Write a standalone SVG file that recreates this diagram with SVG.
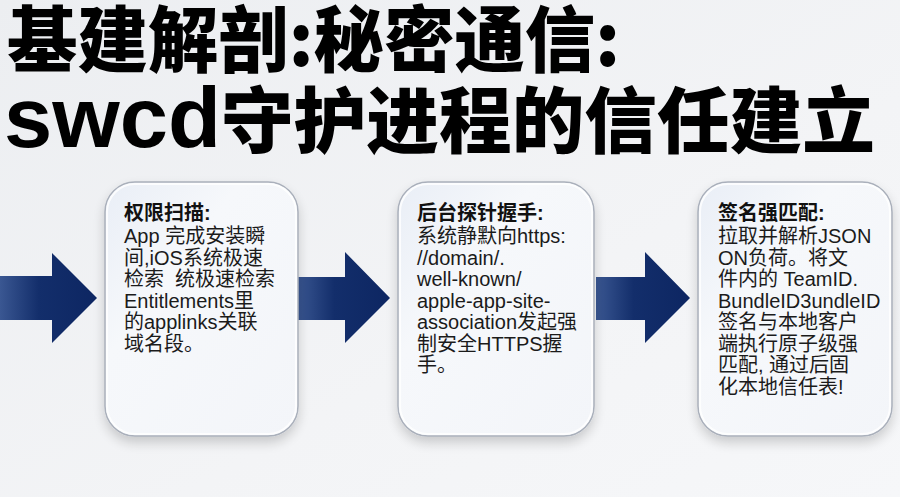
<svg xmlns="http://www.w3.org/2000/svg" width="900" height="497" viewBox="0 0 900 497">
<defs>
<linearGradient id="bg" x1="0" y1="0" x2="1" y2="1">
<stop offset="0" stop-color="#eceef1"/>
<stop offset="0.6" stop-color="#f3f4f6"/>
<stop offset="1" stop-color="#f6f7f9"/>
</linearGradient>
<linearGradient id="card" x1="0" y1="0" x2="1" y2="1">
<stop offset="0" stop-color="#e9eef6"/>
<stop offset="0.35" stop-color="#f6f8fb"/>
<stop offset="1" stop-color="#f3f5f9"/>
</linearGradient>
<linearGradient id="arrow" x1="0" y1="0" x2="1" y2="0">
<stop offset="0" stop-color="#3a5792"/>
<stop offset="0.4" stop-color="#132e6b"/>
<stop offset="1" stop-color="#0d2662"/>
</linearGradient>
<filter id="sh" x="-20%" y="-20%" width="140%" height="150%">
<feGaussianBlur in="SourceAlpha" stdDeviation="6"/>
<feOffset dy="6" result="b"/>
<feComponentTransfer><feFuncA type="linear" slope="0.18"/></feComponentTransfer>
<feMerge><feMergeNode/><feMergeNode in="SourceGraphic"/></feMerge>
</filter>
</defs>
<style>
.card{fill:url(#card);stroke:#aab0bb;stroke-width:1.5}
.inner{fill:none;stroke:#ffffff;stroke-width:2;opacity:0.8}
.arr{fill:url(#arrow)}
.h{font-family:"Liberation Sans","Noto Sans CJK SC",sans-serif;font-weight:bold;font-size:20px;fill:#111}
.t{font-family:"Liberation Sans","Noto Sans CJK SC",sans-serif;font-size:20px;fill:#1b1b1b}
.title{font-family:"Noto Sans CJK SC",sans-serif;font-weight:900;font-size:72px;fill:#000}
.lat{font-family:"Liberation Sans",sans-serif;font-weight:bold;font-size:86px}
</style>
<rect width="900" height="497" fill="url(#bg)"/>
<g id="title">
<text class="title" x="7" y="66" textLength="613" lengthAdjust="spacingAndGlyphs">基建解剖:秘密通信:</text>
<text class="title" x="4" y="147" textLength="871" lengthAdjust="spacingAndGlyphs"><tspan class="lat">swcd</tspan>守护进程的信任建立</text>
</g>
<g id="connectors">
<polygon class="arr" points="0,276 52,276 52,253 97,298 52,343 52,320 0,320"/>
<polygon class="arr" points="297,277 345,277 345,252 390,298 345,343 345,320 297,320"/>
<polygon class="arr" points="596,277 645,277 645,252 690,298 645,343 645,320 596,320"/>
</g>
<g id="node1">
<rect class="card" x="105" y="182" width="193" height="254" rx="30" filter="url(#sh)"/>
<rect class="inner" x="107" y="184" width="189" height="250" rx="28"/>
<text class="h" x="124" y="220">权限扫描:</text>
<text class="t" x="124" y="243">App 完成安装瞬</text>
<text class="t" x="124" y="264.5">间,iOS系统极速</text>
<text class="t" x="124" y="286" xml:space="preserve">检索  统极速检索</text>
<text class="t" x="124" y="307.5">Entitlements里</text>
<text class="t" x="124" y="329">的applinks关联</text>
<text class="t" x="124" y="350.5">域名段。</text>
</g>
<g id="node2">
<rect class="card" x="398" y="182" width="196" height="254" rx="30" filter="url(#sh)"/>
<rect class="inner" x="400" y="184" width="192" height="250" rx="28"/>
<text class="h" x="417" y="220">后台探针握手:</text>
<text class="t" x="417" y="243">系统静默向https:</text>
<text class="t" x="417" y="264.5">//domain/.</text>
<text class="t" x="417" y="286">well-known/</text>
<text class="t" x="417" y="307.5">apple-app-site-</text>
<text class="t" x="417" y="329">association发起强</text>
<text class="t" x="417" y="350.5">制安全HTTPS握</text>
<text class="t" x="417" y="372">手。</text>
</g>
<g id="node3">
<rect class="card" x="698" y="182" width="194" height="254" rx="30" filter="url(#sh)"/>
<rect class="inner" x="700" y="184" width="190" height="250" rx="28"/>
<text class="h" x="718" y="220">签名强匹配:</text>
<text class="t" x="718" y="243">拉取并解析JSON</text>
<text class="t" x="718" y="264.5">ON负荷。将文</text>
<text class="t" x="718" y="286">件内的 TeamID.</text>
<text class="t" x="718" y="307.5">BundleID3undleID</text>
<text class="t" x="718" y="329">签名与本地客户</text>
<text class="t" x="718" y="350.5">端执行原子级强</text>
<text class="t" x="718" y="372">匹配, 通过后固</text>
<text class="t" x="718" y="393.5">化本地信任表!</text>
</g>
</svg>
